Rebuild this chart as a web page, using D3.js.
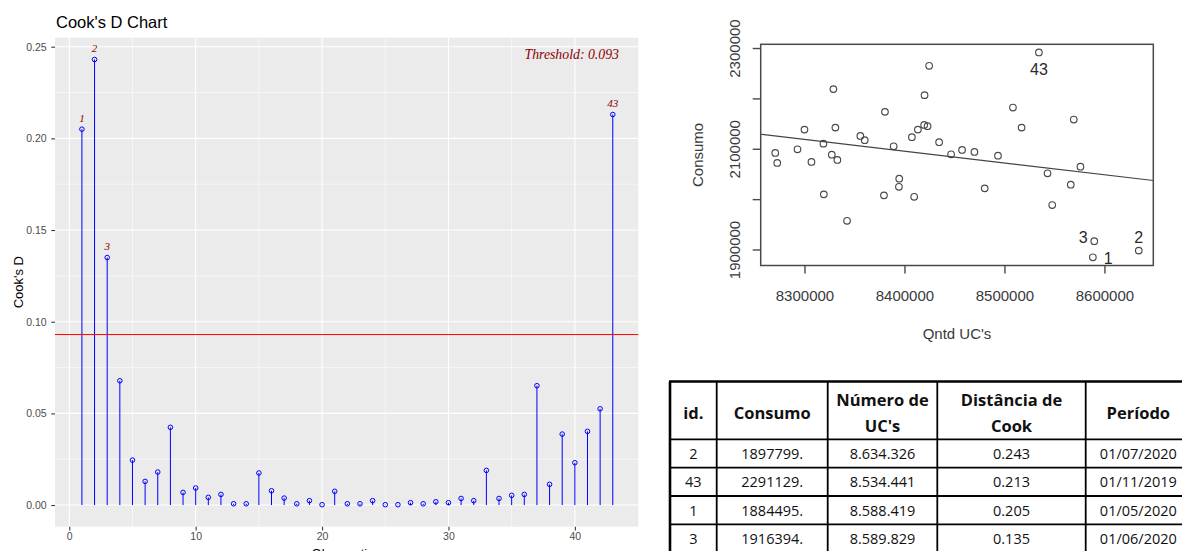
<!DOCTYPE html>
<html><head><meta charset="utf-8">
<script src="https://cdn.jsdelivr.net/npm/d3@7"></script>
<style>html,body{margin:0;padding:0;background:#fff;overflow:hidden}</style>
</head><body><svg id="c" width="1182" height="551" xmlns="http://www.w3.org/2000/svg"></svg>
<script>
// ---------------- DATA ----------------
// Cook's D per observation (1..43)
const observations = d3.range(1, 44);
const cookD = [0.205, 0.243, 0.135, 0.0678, 0.0245, 0.0129, 0.018, 0.0424, 0.0069, 0.0093,
  0.0042, 0.0058, 0.0007, 0.0007, 0.0175, 0.0078, 0.0038, 0.0007, 0.0024, 0.0002,
  0.0075, 0.0007, 0.0007, 0.0024, 0.0002, 0.0002, 0.0013, 0.0007, 0.0018, 0.0013,
  0.0036, 0.0024, 0.0189, 0.0036, 0.0053, 0.0058, 0.0651, 0.0113, 0.0387, 0.0231,
  0.0402, 0.0525, 0.213];
const threshold = 0.093;
const cookYTicks = [0, 0.05, 0.10, 0.15, 0.20, 0.25];
const cookYMinor = [0.025, 0.075, 0.125, 0.175, 0.225];
const cookXTicks = [0, 10, 20, 30, 40];
const cookXMinor = [5, 15, 25, 35];

// Scatter: Qntd UC's vs Consumo
const scatterId = ["1", "2", "3", "", "", "", "", "", "", "", "", "", "", "", "", "", "", "", "", "", "", "", "", "", "", "", "", "", "", "", "", "", "", "", "", "", "", "", "", "", "", "", "43"];
const qntdUC = [8588419, 8634326, 8589829,
  8270773, 8272770, 8293017, 8300000, 8306983, 8318953, 8319352, 8327332, 8328928, 8330923,
  8332918, 8342594, 8355860, 8360249, 8379501, 8380499, 8389177, 8394763, 8394464, 8407431,
  8409726, 8413416, 8419701, 8423092, 8420100, 8424688, 8434663, 8446633, 8457606, 8469975,
  8480249, 8493516, 8508479, 8517157, 8543092, 8547781, 8566334, 8569327, 8576010,
  8534441];
const consumo = [1884495, 1897799, 1916394,
  2091642, 2071741, 2099005, 2138010, 2073731, 2110149, 2009453, 2088259, 2218408, 2141990,
  2077711, 1956915, 2125473, 2116915, 2007463, 2173234, 2104975, 2040498, 2024577, 2122886,
  2004677, 2138010, 2147363, 2144776, 2206468, 2264776, 2112935, 2089055, 2097612, 2093632,
  2021393, 2086269, 2181791, 2141990, 2051244, 1988159, 2028557, 2157910, 2064378,
  2291129];
const fitIntercept = 4059140;
const fitSlope = -0.2338;
const scatterXTicks = [8300000, 8400000, 8500000, 8600000];
const scatterYTicks = [1900000, 2000000, 2100000, 2200000, 2300000];
const scatterYTickLabels = ["1900000", "", "2100000", "", "2300000"];

// Table
const tableHeader = [["id."], ["Consumo"], ["Número de", "UC's"], ["Distância de", "Cook"], ["Período"]];
const tableIds = ["2", "43", "1", "3"];
const tableConsumo = ["1897799.", "2291129.", "1884495.", "1916394."];
const tableUCs = ["8.634.326", "8.534.441", "8.588.419", "8.589.829"];
const tableCook = ["0.243", "0.213", "0.205", "0.135"];
const tablePeriodo = ["01/07/2020", "01/11/2019", "01/05/2020", "01/06/2020"];

// ---------------- COOK'S D CHART ----------------
const svg = d3.select("#c");
const P = {l: 55, r: 638.3, t: 37.7, b: 526.7};
const cx = d3.scaleLinear().domain([-1.13, 45.02]).range([P.l, P.r]);
const cy = d3.scaleLinear().domain([-0.0118, 0.2549]).range([P.b, P.t]);
const sans = "'Liberation Sans', Arial, sans-serif";
const serif = "'Liberation Serif', 'Times New Roman', serif";

const g1 = svg.append("g");
g1.append("rect").attr("x", P.l).attr("y", P.t).attr("width", P.r - P.l).attr("height", P.b - P.t).attr("fill", "#EBEBEB");
g1.selectAll(".ymin").data(cookYMinor).join("line")
  .attr("x1", P.l).attr("x2", P.r).attr("y1", d => cy(d)).attr("y2", d => cy(d))
  .attr("stroke", "#fff").attr("stroke-width", 0.55);
g1.selectAll(".xmin").data(cookXMinor).join("line")
  .attr("y1", P.t).attr("y2", P.b).attr("x1", d => cx(d)).attr("x2", d => cx(d))
  .attr("stroke", "#fff").attr("stroke-width", 0.55);
g1.selectAll(".ymaj").data(cookYTicks).join("line")
  .attr("x1", P.l).attr("x2", P.r).attr("y1", d => cy(d)).attr("y2", d => cy(d))
  .attr("stroke", "#fff").attr("stroke-width", 1.1);
g1.selectAll(".xmaj").data(cookXTicks).join("line")
  .attr("y1", P.t).attr("y2", P.b).attr("x1", d => cx(d)).attr("x2", d => cx(d))
  .attr("stroke", "#fff").attr("stroke-width", 1.1);

const cookData = observations.map((o, i) => ({o, v: cookD[i]}));
g1.selectAll(".stem").data(cookData).join("line")
  .attr("x1", d => cx(d.o)).attr("x2", d => cx(d.o))
  .attr("y1", cy(0)).attr("y2", d => cy(d.v))
  .attr("stroke", "#0000ff").attr("stroke-width", 1);
g1.selectAll(".pt").data(cookData).join("circle")
  .attr("cx", d => cx(d.o)).attr("cy", d => cy(d.v)).attr("r", 2.3)
  .attr("fill", "none").attr("stroke", "#0000ff").attr("stroke-width", 1);

g1.append("line").attr("x1", P.l).attr("x2", P.r).attr("y1", cy(threshold)).attr("y2", cy(threshold))
  .attr("stroke", "#ff0000").attr("stroke-width", 1);

g1.selectAll(".lab").data(cookData.filter(d => d.v > threshold)).join("text")
  .attr("x", d => cx(d.o)).attr("y", d => cy(d.v) - 7.5)
  .attr("text-anchor", "middle").attr("font-family", serif).attr("font-style", "italic")
  .attr("font-size", 11).attr("fill", "#8B0000").text(d => d.o);

g1.append("text").attr("x", 619).attr("y", 59.3).attr("text-anchor", "end")
  .attr("font-family", serif).attr("font-style", "italic").attr("font-size", 13.8)
  .attr("fill", "#8B0000").text("Threshold: " + threshold);

// axes
const ax = g1.append("g").attr("transform", `translate(0,${P.b})`)
  .call(d3.axisBottom(cx).tickValues(cookXTicks).tickSize(3.7).tickPadding(2.6).tickFormat(d3.format("d")));
const ay = g1.append("g").attr("transform", `translate(${P.l},0)`)
  .call(d3.axisLeft(cy).tickValues(cookYTicks).tickSize(3.7).tickPadding(4.6).tickFormat(d3.format(".2f")));
[ax, ay].forEach(a => {
  a.select(".domain").remove();
  a.selectAll(".tick line").attr("stroke", "#333").attr("stroke-width", 1.07);
  a.selectAll(".tick text").attr("fill", "#4D4D4D").attr("font-family", sans).attr("font-size", 10.5);
});

g1.append("text").attr("x", 56).attr("y", 28.3).attr("font-family", sans).attr("font-size", 16.5)
  .attr("fill", "#000").text("Cook's D Chart");
g1.append("text").attr("transform", `translate(22.5,${(P.t + P.b) / 2}) rotate(-90)`)
  .attr("text-anchor", "middle").attr("font-family", sans).attr("font-size", 13)
  .attr("fill", "#000").text("Cook's D");
g1.append("text").attr("x", (P.l + P.r) / 2).attr("y", 557.5)
  .attr("text-anchor", "middle").attr("font-family", sans).attr("font-size", 13)
  .attr("fill", "#000").text("Observation");

// ---------------- SCATTER ----------------
const S = {l: 760.7, r: 1153.3, t: 44.3, b: 265.5};
const xe = d3.extent(qntdUC), ye = d3.extent(consumo);
const xp = (xe[1] - xe[0]) * 0.04, yp = (ye[1] - ye[0]) * 0.04;
const sx = d3.scaleLinear().domain([xe[0] - xp, xe[1] + xp]).range([S.l, S.r]);
const sy = d3.scaleLinear().domain([ye[0] - yp, ye[1] + yp]).range([S.b, S.t]);
const g2 = svg.append("g");
const grey = "#4a4a4a";

const clip = svg.append("clipPath").attr("id", "sclip");
clip.append("rect").attr("x", S.l).attr("y", S.t).attr("width", S.r - S.l).attr("height", S.b - S.t);

const sd = qntdUC.map((x, i) => ({x, y: consumo[i], id: scatterId[i]}));
g2.selectAll(".sp").data(sd).join("circle")
  .attr("cx", d => sx(d.x)).attr("cy", d => sy(d.y)).attr("r", 3.3)
  .attr("fill", "none").attr("stroke", grey).attr("stroke-width", 1.15);

const xd = sx.domain();
g2.append("line").attr("clip-path", "url(#sclip)")
  .attr("x1", sx(xd[0])).attr("y1", sy(fitIntercept + fitSlope * xd[0]))
  .attr("x2", sx(xd[1])).attr("y2", sy(fitIntercept + fitSlope * xd[1]))
  .attr("stroke", "#444").attr("stroke-width", 1.2);

g2.append("rect").attr("x", S.l).attr("y", S.t).attr("width", S.r - S.l).attr("height", S.b - S.t)
  .attr("fill", "none").attr("stroke", grey).attr("stroke-width", 1.5);

const sxa = g2.append("g").attr("transform", `translate(0,${S.b})`)
  .call(d3.axisBottom(sx).tickValues(scatterXTicks).tickSize(8).tickPadding(16.5).tickFormat(d3.format("d")));
const sya = g2.append("g").attr("transform", `translate(${S.l},0)`)
  .call(d3.axisLeft(sy).tickValues(scatterYTicks).tickSize(8).tickFormat((d, i) => scatterYTickLabels[i]));
[sxa, sya].forEach(a => {
  a.select(".domain").remove();
  a.selectAll(".tick line").attr("stroke", grey).attr("stroke-width", 1.4);
  a.selectAll(".tick text").attr("fill", "#3a3a3a").attr("font-family", sans).attr("font-size", 15);
});
sya.selectAll(".tick text").attr("transform", "rotate(-90)").attr("x", 0).attr("y", -21.2)
  .attr("dy", 0).attr("text-anchor", "middle");

g2.append("text").attr("x", (S.l + S.r) / 2).attr("y", 338.5).attr("text-anchor", "middle")
  .attr("font-family", sans).attr("font-size", 15).attr("fill", "#3a3a3a").text("Qntd UC's");
g2.append("text").attr("transform", `translate(703,${(S.t + S.b) / 2}) rotate(-90)`)
  .attr("text-anchor", "middle").attr("font-family", sans).attr("font-size", 15)
  .attr("fill", "#3a3a3a").text("Consumo");

const labPos = {"43": [0, 22.3, "middle"], "3": [-6.7, 2, "end"], "2": [0, -7.7, "middle"], "1": [11, 6.6, "start"]};
g2.selectAll(".sl").data(sd.filter(d => d.id !== "")).join("text")
  .attr("x", d => sx(d.x) + labPos[d.id][0]).attr("y", d => sy(d.y) + labPos[d.id][1])
  .attr("text-anchor", d => labPos[d.id][2])
  .attr("font-family", sans).attr("font-size", 16).attr("fill", "#2a2a2a").text(d => d.id);

// ---------------- TABLE ----------------
const colEdges = [670, 716.7, 827.7, 937.3, 1085.7, 1191];
const rowEdges = [381.5, 439.3, 467.7, 496, 524.3, 552.6];
const g3 = svg.append("g");
const tfont = "'Open Sans', 'Noto Sans', sans-serif";
const colC = i => (colEdges[i] + colEdges[i + 1]) / 2;

tableHeader.forEach((lines, i) => {
  const hc = (rowEdges[0] + rowEdges[1]) / 2;
  const base = lines.length === 1 ? [hc + 8.9] : [hc - 4.9, hc + 21.6];
  lines.forEach((t, j) => {
    g3.append("text").attr("x", colC(i)).attr("y", base[j]).attr("text-anchor", "middle")
      .attr("font-family", tfont).attr("font-weight", "bold").attr("font-size", 16.5)
      .attr("fill", "#111").text(t);
  });
});
const cols = [tableIds, tableConsumo, tableUCs, tableCook, tablePeriodo];
cols.forEach((col, i) => {
  col.forEach((t, r) => {
    const rc = (rowEdges[r + 1] + rowEdges[r + 2]) / 2;
    g3.append("text").attr("x", colC(i)).attr("y", rc + 5.6).attr("text-anchor", "middle")
      .attr("font-family", tfont).attr("font-size", 14.5).attr("fill", "#111").text(t);
  });
});
rowEdges.forEach((y, i) => {
  g3.append("line").attr("x1", colEdges[0] - 1).attr("x2", 1182).attr("y1", y).attr("y2", y)
    .attr("stroke", "#000").attr("stroke-width", i === 0 ? 2.6 : 1.8);
});
colEdges.forEach((x, i) => {
  g3.append("line").attr("x1", x).attr("x2", x).attr("y1", rowEdges[0]).attr("y2", 551)
    .attr("stroke", "#000").attr("stroke-width", i === 0 ? 2.6 : 1.8);
});
</script>
</body></html>
